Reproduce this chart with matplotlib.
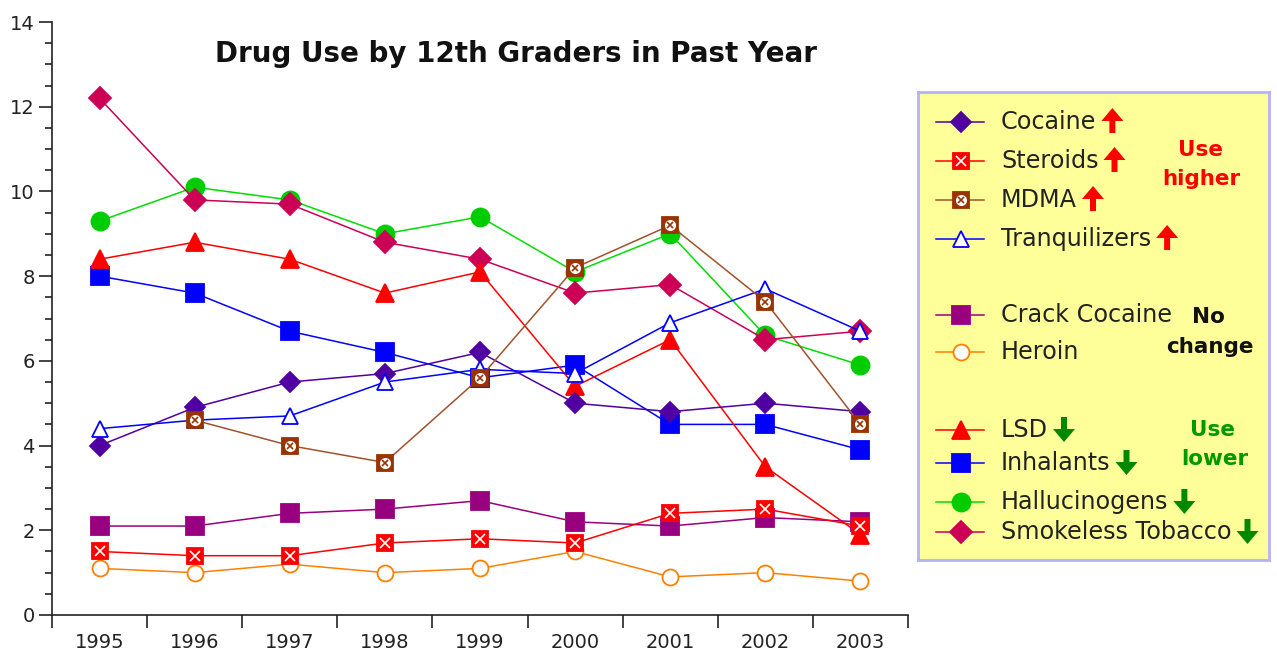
import numpy as np
import matplotlib
matplotlib.use('Agg')
import matplotlib.pyplot as plt

# data (annual prevalence, %)
years = ['1995', '1996', '1997', '1998', '1999', '2000', '2001', '2002', '2003']
cocaine = [4.0, 4.9, 5.5, 5.7, 6.2, 5.0, 4.8, 5.0, 4.8]
steroids = [1.5, 1.4, 1.4, 1.7, 1.8, 1.7, 2.4, 2.5, 2.1]
mdma = [np.nan, 4.6, 4.0, 3.6, 5.6, 8.2, 9.2, 7.4, 4.5]
tranquilizers = [4.4, 4.6, 4.7, 5.5, 5.8, 5.7, 6.9, 7.7, 6.7]
crack = [2.1, 2.1, 2.4, 2.5, 2.7, 2.2, 2.1, 2.3, 2.2]
heroin = [1.1, 1.0, 1.2, 1.0, 1.1, 1.5, 0.9, 1.0, 0.8]
lsd = [8.4, 8.8, 8.4, 7.6, 8.1, 5.4, 6.5, 3.5, 1.9]
inhalants = [8.0, 7.6, 6.7, 6.2, 5.6, 5.9, 4.5, 4.5, 3.9]
hallucinogens = [9.3, 10.1, 9.8, 9.0, 9.4, 8.1, 9.0, 6.6, 5.9]
smokeless = [12.2, 9.8, 9.7, 8.8, 8.4, 7.6, 7.8, 6.5, 6.7]

names = ['Cocaine', 'Steroids', 'MDMA', 'Tranquilizers', 'Crack Cocaine',
         'Heroin', 'LSD', 'Inhalants', 'Hallucinogens', 'Smokeless Tobacco']
values = [cocaine, steroids, mdma, tranquilizers, crack,
          heroin, lsd, inhalants, hallucinogens, smokeless]
trend = ['up', 'up', 'up', 'up', None, None, 'down', 'down', 'down', 'down']

# styles: line colour, marker, face, edge, size (pt)
styles = {
    'Cocaine':           ('#5000A0', 'D', '#5000A0', '#5000A0', 10.5),
    'Steroids':          ('#FF0000', 's', '#FF0000', '#FF0000', 11.5),
    'MDMA':              ('#A0522D', 's', '#993300', '#993300', 12),
    'Tranquilizers':     ('#0000FF', '^', 'white', '#0000FF', 12),
    'Crack Cocaine':     ('#990080', 's', '#990080', '#990080', 12.5),
    'Heroin':            ('#FF8000', 'o', 'white', '#FF8000', 11.5),
    'LSD':               ('#FF0000', '^', '#FF0000', '#FF0000', 13),
    'Inhalants':         ('#0000FF', 's', '#0000FF', '#0000FF', 13),
    'Hallucinogens':     ('#00DD00', 'o', '#00CC00', '#00CC00', 13),
    'Smokeless Tobacco': ('#CC0055', 'D', '#CC0055', '#CC0055', 11),
}
draw_order = ['Hallucinogens', 'Smokeless Tobacco', 'Inhalants', 'LSD', 'Heroin',
              'Crack Cocaine', 'Cocaine', 'Tranquilizers', 'MDMA', 'Steroids']


def draw_series(ax, x, y, name, z, line=True):
    lc, mk, fc, ec, ms = styles[name]
    if line:
        ax.plot(x, y, color=lc, lw=1.1, zorder=z)
    ax.plot(x, y, ls='none', marker=mk, ms=ms, mfc=fc, mec=ec, mew=1.3, zorder=z + 0.1)
    if name == 'Steroids':
        ax.plot(x, y, ls='none', marker='x', ms=7.5, mec='white', mew=1.2, zorder=z + 0.2)
    if name == 'MDMA':
        ax.plot(x, y, ls='none', marker='o', ms=8, mfc='white', mec='none', zorder=z + 0.2)
        ax.plot(x, y, ls='none', marker='x', ms=5, mec='#993300', mew=1.2, zorder=z + 0.3)


W, H = 1277, 656
fig = plt.figure(figsize=(W / 100, H / 100), dpi=100)
ax = fig.add_axes([52 / W, 41 / H, 856 / W, 593 / H])

xs = np.arange(len(years))
for i, name in enumerate(draw_order):
    draw_series(ax, xs, values[names.index(name)], name, 2 + i)

ax.set_xlim(-0.5, 8.5)
ax.set_ylim(0, 14)
for s in ['top', 'right']:
    ax.spines[s].set_visible(False)
for s in ['left', 'bottom']:
    ax.spines[s].set_linewidth(1.2)
    ax.spines[s].set_color('#222222')
ax.set_xticks(np.arange(-0.5, 9, 1))
ax.set_xticklabels([])
ax.set_xticks(xs, minor=True)
ax.set_xticklabels(years, minor=True)
ax.tick_params(axis='x', which='major', length=9, width=1.2, color='#222222')
ax.tick_params(axis='x', which='minor', length=0, pad=13, labelsize=14, labelcolor='#222222')
ax.set_yticks(np.arange(0, 15, 2))
ax.set_yticks(np.arange(0, 14.01, 0.5), minor=True)
ax.tick_params(axis='y', which='major', length=9.5, width=1.2, pad=3, labelsize=14,
               color='#222222', labelcolor='#222222')
ax.tick_params(axis='y', which='minor', length=5, width=1.2, color='#222222')

fig.text(516 / W, 1 - 62 / H, 'Drug Use by 12th Graders in Past Year', ha='center',
         va='baseline', fontsize=20, fontweight='bold', color='#111111')

# legend panel, drawn in pixel coordinates
L, R, T, B = 918, 1269, 92, 560
lax = fig.add_axes([L / W, 1 - B / H, (R - L) / W, (B - T) / H])
lax.set_xlim(L, R)
lax.set_ylim(B, T)
lax.set_facecolor('#FFFF99')
lax.set_xticks([])
lax.set_yticks([])
for s in lax.spines.values():
    s.set_color('#B3B3F5')
    s.set_linewidth(2)

rows = [122, 161, 200, 239, 315, 352, 430, 463, 502, 532]
texts = []
for name, yy in zip(names, rows):
    lc = styles[name][0]
    lax.plot([936, 984], [yy, yy], color=lc, lw=1.1, zorder=2)
    draw_series(lax, [961], [yy], name, 3, line=False)
    texts.append(lax.text(1001, yy, name, fontsize=17.2, va='center', ha='left',
                          color='#222222'))

fig.canvas.draw()
renderer = fig.canvas.get_renderer()
inv = lax.transData.inverted()
for t, yy, tr in zip(texts, rows, trend):
    if tr is None:
        continue
    bb = t.get_window_extent(renderer)
    xr = inv.transform((bb.x1, bb.y0))[0]
    cx = xr + 16
    if tr == 'up':
        lax.arrow(cx, yy + 11, 0, -25, width=6, head_width=22, head_length=13,
                  length_includes_head=True, color='#FF0000', lw=0, zorder=5)
    else:
        lax.arrow(cx, yy - 13, 0, 25, width=6, head_width=22, head_length=13,
                  length_includes_head=True, color='#008800', lw=0, zorder=5)

lax.text(1200, 150, 'Use', color='#FF0000', fontsize=15.5, fontweight='bold', ha='center', va='center')
lax.text(1201, 179, 'higher', color='#FF0000', fontsize=15.5, fontweight='bold', ha='center', va='center')
lax.text(1208, 317, 'No', color='#111111', fontsize=15.5, fontweight='bold', ha='center', va='center')
lax.text(1210, 347, 'change', color='#111111', fontsize=15.5, fontweight='bold', ha='center', va='center')
lax.text(1213, 430, 'Use', color='#009900', fontsize=15.5, fontweight='bold', ha='center', va='center')
lax.text(1215, 459, 'lower', color='#009900', fontsize=15.5, fontweight='bold', ha='center', va='center')

fig.savefig('out.png', dpi=100)
